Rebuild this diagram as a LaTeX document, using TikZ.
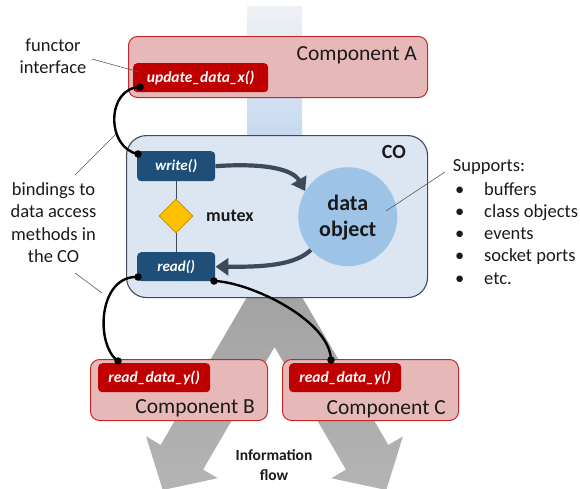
\documentclass[tikz,border=0pt]{standalone}
\usepackage{fontspec}
\setmainfont{Carlito}
\usetikzlibrary{shapes.geometric,arrows.meta}
\definecolor{pinkfill}{HTML}{E6B9B8}
\definecolor{pinkdraw}{HTML}{C0282D}
\definecolor{redbox}{HTML}{C00000}
\definecolor{bluebox}{HTML}{1F4E79}
\definecolor{cofill}{HTML}{DCE6F2}
\definecolor{codraw}{HTML}{3F4A57}
\definecolor{circfill}{HTML}{9DC3E6}
\definecolor{arrowcol}{HTML}{3C4A5B}
\definecolor{mutexfill}{HTML}{FFC000}
\definecolor{mutexdraw}{HTML}{BF9000}
\definecolor{bandtop}{HTML}{EFF1F4}
\definecolor{bandblue}{HTML}{C7D9F0}
\definecolor{flowtop}{HTML}{A2A2A2}
\definecolor{flowbot}{HTML}{B4B4B4}
\definecolor{txt}{HTML}{1A1A1A}
\definecolor{pointer}{HTML}{595959}
\begin{document}
\begin{tikzpicture}[x=1pt,y=-1pt,
  compbox/.style={draw=pinkdraw, fill=pinkfill, line width=1pt, rounded corners=9pt, anchor=north west, inner sep=0pt},
  fnbox/.style={fill=redbox, rounded corners=4pt, anchor=north west, inner sep=0pt, text=white, font=\fontsize{15.5}{18}\selectfont\bfseries\itshape},
  methbox/.style={fill=bluebox, rounded corners=4pt, anchor=north west, inner sep=0pt, text=white, font=\fontsize{15}{18}\selectfont\bfseries\itshape},
  lbl/.style={text=txt, font=\fontsize{18.5}{22}\selectfont, inner sep=0pt},
  complbl/.style={text=txt, font=\fontsize{21.5}{26}\selectfont, inner sep=0pt, anchor=base east},
  boldlbl/.style={text=txt, font=\fontsize{15.5}{19}\selectfont\bfseries, inner sep=0pt, anchor=base},
  dot/.style={circle, fill=black, inner sep=0pt, minimum size=7.5pt},
  wire/.style={line width=2.4pt, black},
  ptr/.style={pointer, line width=0.6pt},
  flowarrow/.style={line width=4.2pt, arrowcol, -{Triangle[length=13pt,width=17pt]}},
]
\useasboundingbox (0,0) rectangle (580,488);
\clip (0,0) rectangle (580,488);

% information flow band
\shade[top color=bandtop, bottom color=bandblue] (247,6) rectangle (302,135);
\fill[bandblue] (247,134) rectangle (302,292);
\shade[top color=flowtop, bottom color=flowbot]
  (247,285) -- (302,285) -- (302,297) -- (388.3,444.9) -- (402.9,436.4) -- (386.3,490)
  -- (331.3,478.2) -- (345.9,469.6) -- (274.5,347) -- (203.1,469.6) -- (217.7,478.2)
  -- (162.7,490) -- (146.1,436.4) -- (160.7,444.9) -- (247,297) -- cycle;

% Component A
\node[compbox, minimum width=299pt, minimum height=61pt] (compA) at (128,36) {};
\node[complbl] (labA) at (417,60.5) {Component A};
\node[fnbox, minimum width=135pt, minimum height=29pt] (upd) at (133,63) {update\_data\_x()};

% CO
\node[draw=codraw, fill=cofill, line width=1.1pt, rounded corners=20pt, anchor=north west, inner sep=0pt,
      minimum width=301pt, minimum height=162pt] (co) at (126,135) {};
\node[text=txt, font=\fontsize{20}{24}\selectfont\bfseries, inner sep=0pt, anchor=base east] (colbl) at (406,158.3) {CO};
\node[methbox, minimum width=78pt, minimum height=30pt] (write) at (137,151) {write()};
\node[methbox, minimum width=78pt, minimum height=29pt] (read) at (137,252) {read()};
\draw[codraw, line width=1pt] (write.south) -- (read.north);
\node[diamond, draw=mutexdraw, fill=mutexfill, line width=0.8pt, inner sep=0pt, minimum width=34pt, minimum height=34pt] (mutex) at (176,216) {};
\node[text=txt, font=\fontsize{18}{22}\selectfont\bfseries, inner sep=0pt, anchor=base west] (mutexlbl) at (206,221.7) {mutex};
\node[circle, fill=circfill, minimum size=99pt, inner sep=0pt] (data) at (347.8,216.7) {};
\node[text=txt, font=\fontsize{22}{26}\selectfont\bfseries, inner sep=0pt, anchor=base] (datal1) at (347.8,210.5) {data};
\node[text=txt, font=\fontsize{22}{26}\selectfont\bfseries, inner sep=0pt, anchor=base] (datal2) at (347.8,236.5) {object};
\draw[flowarrow] (write.east) .. controls (260,163) and (292,168) .. (data.149);
\draw[flowarrow] (data.222) .. controls (295,265) and (265,267) .. (read.east);

% Components B and C
\node[compbox, minimum width=177pt, minimum height=61pt] (compB) at (90,359) {};
\node[complbl] (labB) at (255,413.5) {Component B};
\node[fnbox, minimum width=112pt, minimum height=29pt] (readB) at (98,363) {read\_data\_y()};
\node[compbox, minimum width=176pt, minimum height=61pt] (compC) at (282,359) {};
\node[complbl] (labC) at (446,414) {Component C};
\node[fnbox, minimum width=112pt, minimum height=29pt] (readC) at (289,363) {read\_data\_y()};

% binding dots and wires
\node[dot] (d1) at (140,87) {};
\node[dot] (d2) at (138,154) {};
\node[dot] (d3) at (138,277) {};
\node[dot] (d4) at (214,281) {};
\node[dot] (d5) at (118,361) {};
\node[dot] (d6) at (331,360) {};
\draw[wire] (d1.center) .. controls (106,88) and (106,148) .. (d2.center);
\draw[wire] (d3.center) .. controls (98,275) and (95,345) .. (d5.center);
\draw[wire] (d4.center) .. controls (250,282) and (330,320) .. (d6.center);

% left annotations
\node[lbl, anchor=base] (fn1) at (53,51.7) {functor};
\node[lbl, anchor=base] (fn2) at (53,73.3) {interface};
\node[lbl, anchor=base] (bd1) at (53.5,195) {bindings to};
\node[lbl, anchor=base] (bd2) at (53.5,217.3) {data access};
\node[lbl, anchor=base] (bd3) at (53.5,240) {methods in};
\node[lbl, anchor=base] (bd4) at (53.5,262.7) {the CO};
\coordinate (pf1) at (92,59);
\coordinate (pf2) at (139,72);
\coordinate (pb1) at (75,175);
\coordinate (pb2) at (116,134);
\coordinate (pb3) at (75,273);
\coordinate (pb4) at (102,293);
\draw[ptr] (pf1) -- (pf2);
\draw[ptr] (pb1) -- (pb2);
\draw[ptr] (pb3) -- (pb4);

% right annotations
\node[lbl, anchor=base west] (sup) at (452.7,171) {Supports:};
\node[lbl, anchor=base west] (b1) at (455,195) {•};
\node[lbl, anchor=base west] (s1) at (484,195) {buffers};
\node[lbl, anchor=base west] (b2) at (455,217.3) {•};
\node[lbl, anchor=base west] (s2) at (484,217.3) {class objects};
\node[lbl, anchor=base west] (b3) at (455,239.5) {•};
\node[lbl, anchor=base west] (s3) at (484,239.5) {events};
\node[lbl, anchor=base west] (b4) at (455,261.7) {•};
\node[lbl, anchor=base west] (s4) at (484,261.7) {socket ports};
\node[lbl, anchor=base west] (b5) at (455,284) {•};
\node[lbl, anchor=base west] (s5) at (484,284) {etc.};
\coordinate (ps1) at (445,172);
\coordinate (ps2) at (386,211);
\draw[ptr] (ps1) -- (ps2);

% information flow label
\node[boldlbl] (if1) at (274,460.7) {Information};
\node[boldlbl] (if2) at (274,480) {flow};
\end{tikzpicture}
\end{document}
